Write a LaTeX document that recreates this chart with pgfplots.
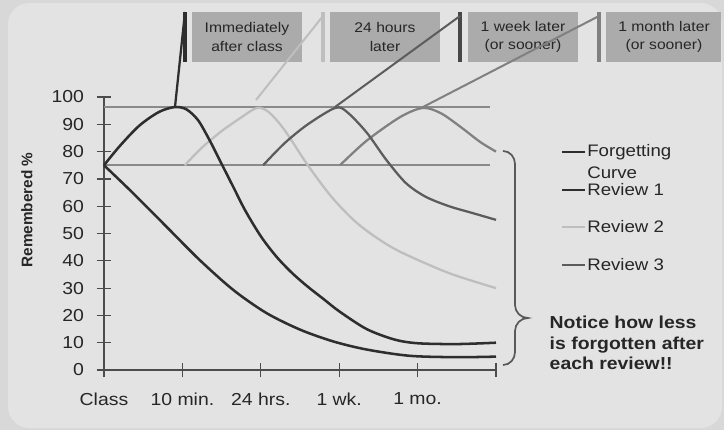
\documentclass[border=0pt]{standalone}
\usepackage{pgfplots}
\pgfplotsset{compat=1.18}
\usepackage{fontspec}
\setmainfont[FakeStretch=1.12]{Liberation Sans}
\newfontfamily\plainsans{Liberation Sans}
\definecolor{bgouter}{HTML}{D8D8D8}
\definecolor{bginner}{HTML}{E3E3E3}
\definecolor{cdark}{HTML}{2E2E2E}
\definecolor{clight}{HTML}{BEBEBE}
\definecolor{cmed}{HTML}{5C5C5C}
\definecolor{cmedb}{HTML}{808080}
\definecolor{chl}{HTML}{8A8A8A}
\definecolor{boxfill}{HTML}{ABABAB}
\definecolor{txt}{HTML}{262626}
\begin{document}
\begin{tikzpicture}[x=0.75pt,y=0.75pt]
\useasboundingbox (0,0) rectangle (724,430);
\fill[bgouter] (0,0) rectangle (724,430);
\fill[bginner, rounded corners=16pt] (8,2) rectangle (722,427);
\begin{axis}[
  at={(78pt,45pt)}, anchor=south west, scale only axis,
  width=294pt, height=204.75pt,
  xmin=0, xmax=5, ymin=0, ymax=100,
  axis x line=bottom, axis y line=left,
  axis line style={-, color=black!70, line width=0.9pt},
  xtick={0,1,2,3,4,5},
  xticklabels={Class,10 min.,24 hrs.,1 wk.,1 mo.,{}},
  ytick={0,10,...,100},
  tick align=center, major tick length=11pt,
  tick style={black!70, line width=0.9pt},
  /pgf/number format/assume math mode=true,
  ticklabel style={font=\fontsize{13}{15}\selectfont, text=txt},
  xticklabel style={yshift=-8pt},
  yticklabel style={xshift=-6pt},
  clip=false,
]
% reference lines
\addplot[chl, line width=1.6pt] coordinates {(0,96.3) (4.92,96.3)};
\addplot[chl, line width=1.6pt] coordinates {(0,75) (4.92,75)};
% Review 2 (light)
\addplot[clight, line width=1.7pt, smooth] coordinates {(1.03,75) (1.25,81.5) (1.5,87.5) (1.75,92.5) (1.95,96) (2.1,94.5) (2.3,88) (2.6,75) (2.9,63.5) (3.2,54.5) (3.5,48) (3.8,43) (4.4,35.5) (5,30)};
% Review 4
\addplot[cmedb, line width=1.7pt, smooth] coordinates {(3.01,75) (3.35,84) (3.78,92.7) (4.07,96) (4.3,94) (4.55,89) (4.8,83.5) (5,80)};
% Review 3
\addplot[cmed, line width=1.7pt, smooth] coordinates {(2.03,75) (2.3,83) (2.6,90) (2.95,96) (3.1,94.5) (3.35,87) (3.6,77) (3.85,68.5) (4.1,63.5) (4.4,60) (4.7,57.5) (5,55)};
% Review 1
\addplot[cdark, line width=1.9pt, smooth] coordinates {(0,75) (0.2,82) (0.45,89.5) (0.7,94.5) (0.9,96.3) (1.05,95.5) (1.2,91.5) (1.35,84) (1.5,75.5) (1.65,67) (1.8,58.5) (2.0,49) (2.2,41.5) (2.4,35.5) (2.6,30.5) (2.8,26) (3.0,21.5) (3.35,15) (3.7,11.2) (4.0,9.8) (4.5,9.5) (5,10)};
% Forgetting curve
\addplot[cdark, line width=1.9pt, smooth] coordinates {(0,75) (0.37,64.8) (0.8,52.4) (1.22,40.3) (1.65,29.3) (2.07,20.9) (2.5,14.8) (2.92,10.5) (3.35,7.5) (3.9,5.2) (4.5,4.7) (5,4.9)};
\end{axis}
% y label
\node[rotate=90, font=\plainsans\bfseries\fontsize{11.5}{13}\selectfont, text=txt] at (27,220) {Remembered \%};
% boxes
\fill[boxfill] (192,418) rectangle (302,368);
\fill[boxfill] (330,418) rectangle (440,368);
\fill[boxfill] (468,418) rectangle (578,368);
\fill[boxfill] (606,418) rectangle (721,368);
\begin{scope}[every node/.style={align=center, text=txt, font=\fontsize{10.5}{14}\selectfont}]
\node at (247,393) {Immediately\\after class};
\node at (385,393) {24 hours\\later};
\node at (523,393) {1 week later\\(or sooner)};
\node at (664,393) {1 month later\\(or sooner)};
\end{scope}
% bars
\draw[cdark, line width=2.4pt] (185,418) -- (185,368);
\draw[clight, line width=2.4pt] (323,418) -- (323,368);
\draw[black!72, line width=2.4pt] (460,418) -- (460,368);
\draw[cmedb, line width=2.4pt] (599,418) -- (599,368);
% leader lines
\draw[cdark, line width=1.7pt] (175,323) -- (185,418);
\draw[clight, line width=1.5pt] (256,330) -- (323,414);
\draw[cmed, line width=1.5pt] (335,323) -- (460,414);
\draw[cmedb, line width=1.5pt] (423,323) -- (599,414);
% legend
\begin{scope}[every node/.style={anchor=west, text=txt, font=\fontsize{12.5}{15}\selectfont, inner sep=0pt}]
\draw[cdark, line width=1.9pt] (562,278) -- (585,278);
\node at (587,278) {Forgetting};
\node at (587,257) {Curve};
\draw[cdark, line width=1.9pt] (562,240) -- (585,240);
\node at (587,240) {Review 1};
\draw[clight, line width=1.7pt] (562,203) -- (585,203);
\node at (587,203) {Review 2};
\draw[cmed, line width=1.7pt] (562,165) -- (585,165);
\node at (587,165) {Review 3};
\end{scope}
% brace
\draw[black!65, line width=1.3pt] (503,279) to[out=0,in=90] (515,266) -- (515,125) to[out=-90,in=180] (528,112) to[out=180,in=90] (515,99) -- (515,78) to[out=-90,in=0] (503,65);
\node[anchor=west, align=left, text=txt, font=\bfseries\fontsize{13}{15.5}\selectfont] at (545,87) {Notice how less\\is forgotten after\\each review!!};
\end{tikzpicture}
\end{document}
